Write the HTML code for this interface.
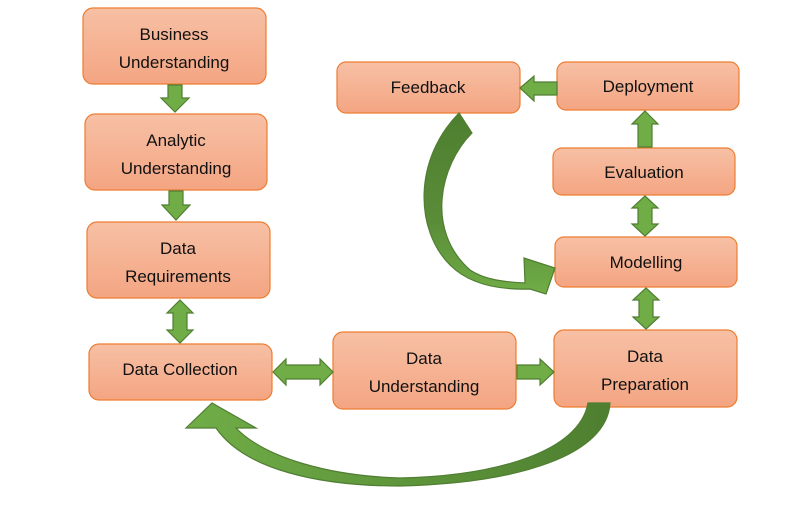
<!DOCTYPE html>
<html><head><style>
body{margin:0;background:#fff;}
svg{display:block;}
text{font-family:"Liberation Sans",sans-serif;font-size:17px;fill:#111;text-anchor:middle;}
</style></head><body>
<svg width="789" height="529" viewBox="0 0 789 529" xmlns="http://www.w3.org/2000/svg">
<defs>
<linearGradient id="bx" x1="0" y1="0" x2="0" y2="1"><stop offset="0" stop-color="#f7c0a5"/><stop offset="1" stop-color="#f4a582"/></linearGradient>
<linearGradient id="g1" x1="0" y1="0" x2="0" y2="1"><stop offset="0" stop-color="#4e7f30"/><stop offset="0.6" stop-color="#5a8c38"/><stop offset="1" stop-color="#70ad47"/></linearGradient>
<linearGradient id="g2" x1="1" y1="0" x2="0" y2="0"><stop offset="0" stop-color="#4e7f30"/><stop offset="1" stop-color="#70ad47"/></linearGradient>
</defs>
<g fill="url(#bx)" stroke="#ed7d31" stroke-width="1.2">
<rect x="83" y="8" width="183" height="76" rx="10"/>
<rect x="85" y="114" width="182" height="76" rx="10"/>
<rect x="87" y="222" width="183" height="76" rx="10"/>
<rect x="89" y="344" width="183" height="56" rx="10"/>
<rect x="333" y="332" width="183" height="77" rx="10"/>
<rect x="554" y="330" width="183" height="77" rx="10"/>
<rect x="555" y="237" width="182" height="50" rx="9"/>
<rect x="553" y="148" width="182" height="47" rx="9"/>
<rect x="557" y="62" width="182" height="48" rx="9"/>
<rect x="337" y="62" width="183" height="51" rx="9"/>
</g>
<text x="174" y="40">Business</text><text x="174" y="68">Understanding</text>
<text x="176" y="146">Analytic</text><text x="176" y="174">Understanding</text>
<text x="178" y="254">Data</text><text x="178" y="282">Requirements</text>
<text x="180" y="375">Data Collection</text>
<text x="424" y="364">Data</text><text x="424" y="392">Understanding</text>
<text x="645" y="362">Data</text><text x="645" y="390">Preparation</text>
<text x="646" y="268">Modelling</text>
<text x="644" y="178">Evaluation</text>
<text x="648" y="92">Deployment</text>
<text x="428" y="93">Feedback</text>
<g fill="#70ad47" stroke="#507e32" stroke-width="1.2">
<path d="M168,85 H182 V98 H189 L175,112 L161,98 H168 Z"/>
<path d="M169,191 H183 V205 H190 L176,220 L162,205 H169 Z"/>
<path d="M180,300 L193,313 H187 V330 H193 L180,343 L167,330 H173 V313 H167 Z"/>
<path d="M273,372 L286,359 V365 H320 V359 L333,372 L320,385 V379 H286 V385 Z"/>
<path d="M517,365 H540 V359 L554,372 L540,385 V379 H517 Z"/>
<path d="M646,288 L659,300 H653 V317 H659 L646,329 L633,317 H639 V300 H633 Z"/>
<path d="M645,196 L658,208 H652 V224 H658 L645,236 L632,224 H638 V208 H632 Z"/>
<path d="M645,111 L658,124 H652 V147 H638 V124 H632 Z"/>
<path d="M520,88 L534,76 V82 H557 V95 H534 V101 Z"/>
</g>
<path d="M459,113 L472,133 C440,165 425,230 470,270 C485,280 505,282 525,283 L524,258 L555,268 L546,294 L530,289 C500,290 470,285 450,265 C415,230 413,160 459,113 Z" fill="url(#g1)" stroke="#507e32" stroke-width="1.2"/>
<path d="M588,403 L610,403 C607,455 520,483 400,486 C320,486 245,470 216,428 L186,428 L212,403 L256,428 L236,428 C265,458 330,476 400,478 C500,476 580,450 588,403 Z" fill="url(#g2)" stroke="#507e32" stroke-width="1.2"/>
</svg>
</body></html>
